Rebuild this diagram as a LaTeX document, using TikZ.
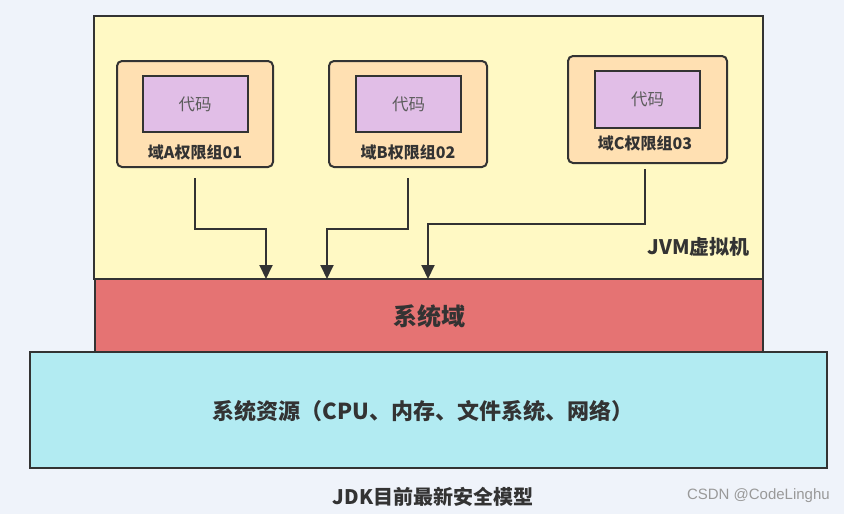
\documentclass[tikz,border=0pt]{standalone}
\usepackage{fontspec}
\setmainfont{Noto Sans CJK SC}
\newfontfamily\wmfont{Liberation Sans}
\usetikzlibrary{arrows.meta}
\definecolor{bgc}{HTML}{EFF3FA}
\definecolor{jvmc}{HTML}{FFF9C4}
\definecolor{redc}{HTML}{E57373}
\definecolor{cyanc}{HTML}{B2EBF2}
\definecolor{orc}{HTML}{FFE0B2}
\definecolor{purc}{HTML}{E1BEE7}
\definecolor{linec}{HTML}{333333}
\tikzset{
  layer/.style={draw=linec, line width=2pt, inner sep=0pt},
  grp/.style={draw=linec, fill=orc, line width=2pt, rounded corners=5pt, inner sep=0pt},
  code/.style={draw=linec, fill=purc, line width=2pt, inner sep=0pt, minimum width=105pt, minimum height=56pt,
    font=\fontsize{16.5}{19}\selectfont, text=linec!80},
  glabel/.style={font=\bfseries\fontsize{16}{19}\selectfont, text=linec, inner sep=0pt},
  arr/.style={draw=linec, line width=2pt, -{Triangle[length=14pt,width=13pt]}},
}
\begin{document}
\begin{tikzpicture}[x=1pt,y=-1pt]
\fill[bgc] (0,0) rectangle (844,514);
\useasboundingbox (0,0) rectangle (844,514);
% layers
\node[layer, fill=jvmc, minimum width=669pt, minimum height=263pt] (jvm) at (428.5,147.5) {};
\node[layer, fill=redc, minimum width=668pt, minimum height=73pt] (sysdom) at (428.5,315.5) {};
\node[layer, fill=cyanc, minimum width=797pt, minimum height=116pt] (res) at (428.5,410) {};
\node[font=\bfseries\fontsize{24}{28}\selectfont, text=linec] (sysdomt) at (429,316) {系统域};
\node[font=\bfseries\fontsize{22}{26}\selectfont, text=linec] (rest) at (423,411) {系统资源（CPU、内存、文件系统、网络）};
\node[font=\bfseries\fontsize{20}{24}\selectfont, text=linec, anchor=east, inner sep=0pt] (jvmt) at (750,247) {JVM虚拟机};
% groups
\node[grp, minimum width=156pt, minimum height=106pt] (A) at (195,114) {};
\node[code] (ca) at (195,104) {代码};
\node[glabel] (la) at (195,152) {域A权限组01};
\node[grp, minimum width=158pt, minimum height=106pt] (B) at (408,114) {};
\node[code] (cb) at (408.5,104) {代码};
\node[glabel] (lb) at (408,152) {域B权限组02};
\node[grp, minimum width=159pt, minimum height=107pt] (C) at (647.5,109.5) {};
\node[code, minimum height=57pt] (cc) at (647.5,99.5) {代码};
\node[glabel] (lc) at (645,143) {域C权限组03};
% arrow targets on system domain
\coordinate (ta) at (266,279);
\coordinate (tb) at (327,279);
\coordinate (tc) at (428,279);
\draw[arr] ([yshift=-10pt]A.south) -- ++(0,51) -| (ta);
\draw[arr] ([yshift=-10pt]B.south) -- ++(0,51) -| (tb);
\draw[arr] ([xshift=-2.5pt,yshift=-5pt]C.south) -- ++(0,55) -| (tc);
% caption
\node[font=\bfseries\fontsize{20}{24}\selectfont, text=linec] (cap) at (433,497) {JDK目前最新安全模型};
\node[font=\wmfont\fontsize{15}{18}\selectfont, text=black!40, anchor=east, inner sep=0pt] (wm) at (830,496) {CSDN @CodeLinghu};
\end{tikzpicture}
\end{document}
